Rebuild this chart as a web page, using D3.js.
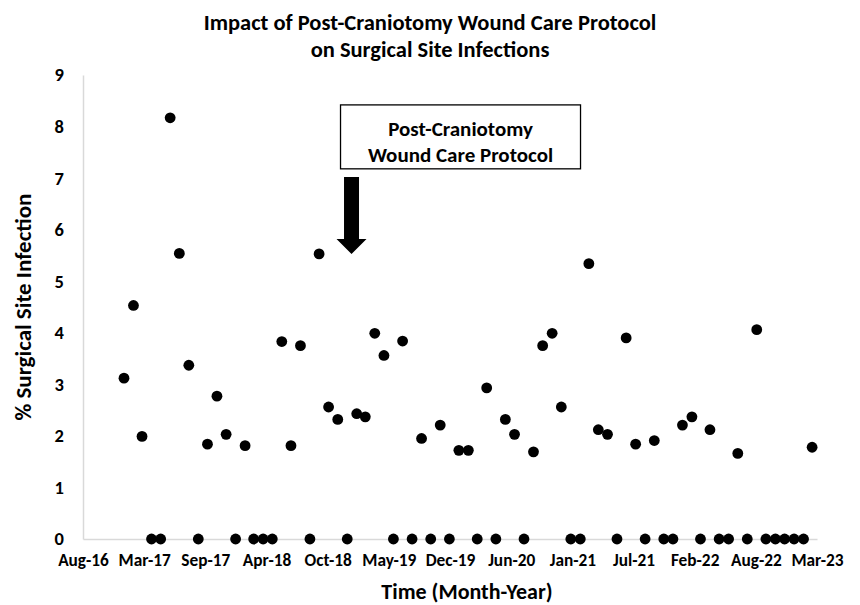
<!DOCTYPE html>
<html>
<head>
<meta charset="utf-8">
<script src="https://cdn.jsdelivr.net/npm/d3@7"></script>
<style>
  html, body { margin: 0; padding: 0; background: #fff; }
  svg { display: block; }
  text { font-family: Carlito, Calibri, Lato, sans-serif; font-weight: bold; fill: #000; }
</style>
</head>
<body>
<svg id="chart" width="860" height="605"></svg>
<script>
// ---- data ----
const months = [
  "2017-01","2017-02","2017-03","2017-04","2017-05","2017-06","2017-07","2017-08","2017-09","2017-10","2017-11","2017-12",
  "2018-01","2018-02","2018-03","2018-04","2018-05","2018-06","2018-07","2018-08","2018-09","2018-10","2018-11","2018-12",
  "2019-01","2019-02","2019-03","2019-04","2019-05","2019-06","2019-07","2019-08","2019-09","2019-10","2019-11","2019-12",
  "2020-01","2020-02","2020-03","2020-04","2020-05","2020-06","2020-07","2020-08","2020-09","2020-10","2020-11","2020-12",
  "2021-01","2021-02","2021-03","2021-04","2021-05","2021-06","2021-07","2021-08","2021-09","2021-10","2021-11","2021-12",
  "2022-01","2022-02","2022-03","2022-04","2022-05","2022-06","2022-07","2022-08","2022-09","2022-10","2022-11","2022-12",
  "2023-01","2023-02","2023-03"
];
const ssiPercent = [
  3.12, 4.53, 1.99, 0, 0, 8.17, 5.54, 3.37, 0, 1.84, 2.77, 2.03,
  0, 1.81, 0, 0, 0, 3.83, 1.81, 3.75, 0, 5.53, 2.56, 2.32,
  0, 2.43, 2.37, 3.99, 3.56, 0, 3.84, 0, 1.95, 0, 2.21, 0,
  1.72, 1.72, 0, 2.93, 0, 2.32, 2.03, 0, 1.69, 3.75, 3.99, 2.56,
  0, 0, 5.34, 2.12, 2.03, 0, 3.90, 1.84, 0, 1.91, 0, 0,
  2.21, 2.37, 0, 2.12, 0, 0, 1.66, 0, 4.06, 0, 0, 0,
  0, 0, 1.78
];
const xTickDates = ["2016-08-20","2017-03-08","2017-09-24","2018-04-12","2018-10-29","2019-05-17",
  "2019-12-03","2020-06-20","2021-01-06","2021-07-25","2022-02-10","2022-08-29","2023-03-17"];
const xTickLabels = ["Aug-16","Mar-17","Sep-17","Apr-18","Oct-18","May-19","Dec-19",
  "Jun-20","Jan-21","Jul-21","Feb-22","Aug-22","Mar-23"];
const yTicks = [0,1,2,3,4,5,6,7,8,9];
const titleLines = ["Impact of Post-Craniotomy Wound Care Protocol", "on Surgical Site Infections"];
const protocolDate = "2019-01-15";
const protocolLines = ["Post-Craniotomy", "Wound Care Protocol"];

// ---- setup ----
const FONT = "Carlito, Calibri, Lato, sans-serif";
const parse = d3.utcParse("%Y-%m-%d");
const parseM = d3.utcParse("%Y-%m");
const data = months.map((m, i) => ({ date: parseM(m), value: ssiPercent[i] }));
const tickDates = xTickDates.map(parse);

const svg = d3.select("#chart");
const plot = { left: 83, right: 817, top: 75, bottom: 539 };

const x = d3.scaleUtc().domain([tickDates[0], tickDates[tickDates.length - 1]]).range([plot.left, plot.right]);
const y = d3.scaleLinear().domain([0, 9]).range([plot.bottom, plot.top]);

// title
svg.append("text")
  .attr("text-anchor", "middle")
  .style("font-size", "22.5px")
  .selectAll("tspan").data(titleLines).join("tspan")
  .attr("x", 430).attr("y", (d, i) => 30 + i * 27)
  .text(d => d);

// x axis
const xAxis = d3.axisBottom(x)
  .tickValues(tickDates)
  .tickFormat((d, i) => xTickLabels[i])
  .tickSize(0).tickPadding(15);
const gx = svg.append("g").attr("transform", `translate(0,${plot.bottom})`).call(xAxis);
gx.select(".domain").attr("stroke", "#d9d9d9").attr("stroke-width", 1.5);
gx.selectAll("text").style("font-size", "17.3px").style("font-family", FONT).style("font-weight", "bold");

// y axis
const yAxis = d3.axisLeft(y).tickValues(yTicks).tickFormat(d3.format("d")).tickSize(0).tickPadding(19);
const gy = svg.append("g").attr("transform", `translate(${plot.left},0)`).call(yAxis);
gy.select(".domain").attr("stroke", "#d9d9d9").attr("stroke-width", 1.5);
gy.selectAll("text").style("font-size", "18.5px").style("font-family", FONT).style("font-weight", "bold");

// axis titles
svg.append("text")
  .attr("x", 467).attr("y", 599).attr("text-anchor", "middle")
  .style("font-size", "22px")
  .text("Time (Month-Year)");
svg.append("text")
  .attr("transform", `translate(31,${(plot.top + plot.bottom) / 2}) rotate(-90)`)
  .attr("text-anchor", "middle")
  .style("font-size", "23px")
  .text("% Surgical Site Infection");

// points
svg.append("g").selectAll("circle").data(data).join("circle")
  .attr("cx", d => x(d.date))
  .attr("cy", d => y(d.value))
  .attr("r", 5.4)
  .attr("fill", "#000");

// annotation
const ax = x(parse(protocolDate));
const boxCx = ax + 109;
svg.append("rect")
  .attr("x", boxCx - 120).attr("y", y(8.42))
  .attr("width", 240).attr("height", y(7.18) - y(8.42))
  .attr("fill", "#fff").attr("stroke", "#000").attr("stroke-width", 1.3);
svg.append("text")
  .attr("text-anchor", "middle")
  .style("font-size", "21px")
  .selectAll("tspan").data(protocolLines).join("tspan")
  .attr("x", boxCx).attr("y", (d, i) => y(7.81) + i * 25.5)
  .text(d => d);

const shaftTop = y(7.02), headBase = y(5.82), tip = y(5.53);
svg.append("path")
  .attr("d", `M${ax - 7.5},${shaftTop} L${ax + 7.5},${shaftTop} L${ax + 7.5},${headBase} L${ax + 15},${headBase} L${ax},${tip} L${ax - 15},${headBase} L${ax - 7.5},${headBase} Z`)
  .attr("fill", "#000");
</script>
</body>
</html>
